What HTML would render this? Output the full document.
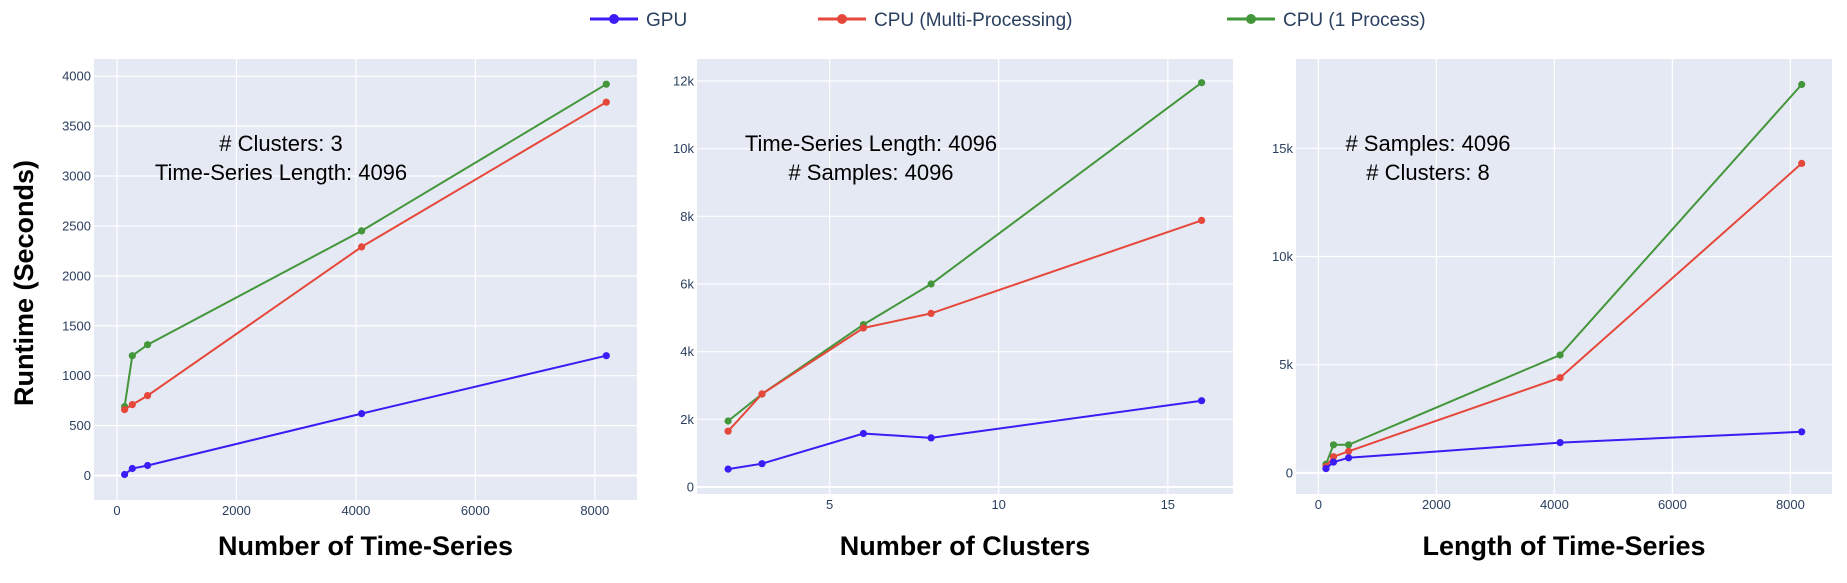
<!DOCTYPE html>
<html><head><meta charset="utf-8"><style>
html,body{margin:0;padding:0;background:#fff;width:1847px;height:583px;overflow:hidden}
svg{display:block;font-family:"Liberation Sans",sans-serif}
</style></head><body>
<svg id="s" width="1847" height="583" xmlns="http://www.w3.org/2000/svg"></svg>
<script>
const S=document.getElementById('s');let h='';
const C={g:'#3b1cf5',m:'#e5483a',p:'#43963a'};
function panel(o){
  const {L,R,T,B,x0,xk,y0,yk}=o;
  const X=v=>x0+v*xk, Y=v=>y0-v*yk;
  h+=`<rect x="${L}" y="${T}" width="${R-L}" height="${B-T}" fill="#e5e9f4"/>`;
  o.xt.forEach(([v,t])=>{const x=X(v);h+=`<line x1="${x}" x2="${x}" y1="${T}" y2="${B}" stroke="#fff" stroke-width="1.2"/><text x="${x}" y="${o.xly}" font-size="13" fill="#2a3f5f" text-anchor="middle">${t}</text>`;});
  o.yt.forEach(([v,t])=>{const y=Y(v);h+=`<line x1="${L}" x2="${R}" y1="${y}" y2="${y}" stroke="#fff" stroke-width="${v==0?2:1.2}"/><text x="${L-3}" y="${y+4.5}" font-size="13" fill="#2a3f5f" text-anchor="end">${t}</text>`;});
  ['p','m','g'].forEach(k=>{const d=o.d[k];const pts=o.xs.map((x,i)=>X(x).toFixed(1)+','+Y(d[i]).toFixed(1));
    h+=`<polyline points="${pts.join(' ')}" fill="none" stroke="${C[k]}" stroke-width="2"/>`;
    pts.forEach(p=>{const [a,b]=p.split(',');h+=`<circle cx="${a}" cy="${b}" r="3.6" fill="${C[k]}"/>`;});});
  h+=`<text x="${o.ax}" y="151" font-size="22" fill="#000" text-anchor="middle">${o.a1}</text><text x="${o.ax}" y="180" font-size="22" fill="#000" text-anchor="middle">${o.a2}</text>`;
  h+=`<text x="${(L+R)/2}" y="555" font-size="27" font-weight="bold" fill="#000" text-anchor="middle">${o.title}</text>`;
}
panel({L:94,R:637,T:59,B:500,x0:117,xk:477.8/8000,y0:475.5,yk:399.3/4000,xly:515,
 xt:[[0,'0'],[2000,'2000'],[4000,'4000'],[6000,'6000'],[8000,'8000']],
 yt:[0,500,1000,1500,2000,2500,3000,3500,4000].map(v=>[v,''+v]),
 xs:[128,256,512,4096,8192],
 d:{g:[10,70,100,620,1200],m:[660,710,800,2290,3740],p:[690,1200,1310,2450,3920]},
 ax:281,a1:'# Clusters: 3',a2:'Time-Series Length: 4096',title:'Number of Time-Series'});
panel({L:697,R:1233,T:59,B:494,x0:829.6-5*33.82,xk:33.82,y0:487,yk:406/12000,xly:509,
 xt:[[5,'5'],[10,'10'],[15,'15']],
 yt:[[0,'0'],[2000,'2k'],[4000,'4k'],[6000,'6k'],[8000,'8k'],[10000,'10k'],[12000,'12k']],
 xs:[2,3,6,8,16],
 d:{g:[530,690,1580,1450,2550],m:[1650,2750,4700,5130,7880],p:[1950,2750,4800,6000,11950]},
 ax:871,a1:'Time-Series Length: 4096',a2:'# Samples: 4096',title:'Number of Clusters'});
panel({L:1296,R:1832,T:59,B:494,x0:1318.4,xk:472/8000,y0:472.9,yk:108.2/5000,xly:509,
 xt:[[0,'0'],[2000,'2000'],[4000,'4000'],[6000,'6000'],[8000,'8000']],
 yt:[[0,'0'],[5000,'5k'],[10000,'10k'],[15000,'15k']],
 xs:[128,256,512,4096,8192],
 d:{g:[200,500,700,1400,1900],m:[300,750,1000,4400,14300],p:[400,1300,1300,5450,17950]},
 ax:1428,a1:'# Samples: 4096',a2:'# Clusters: 8',title:'Length of Time-Series'});
h+=`<text transform="translate(33,283) rotate(-90)" font-size="27" font-weight="bold" fill="#000" text-anchor="middle">Runtime (Seconds)</text>`;
[[590,'g','GPU'],[818,'m','CPU (Multi-Processing)'],[1227,'p','CPU (1 Process)']].forEach(([x,k,t])=>{
 h+=`<line x1="${x}" x2="${x+48}" y1="19" y2="19" stroke="${C[k]}" stroke-width="3"/><circle cx="${x+24}" cy="19" r="5" fill="${C[k]}"/><text x="${x+56}" y="26" font-size="19" fill="#2a3f5f">${t}</text>`;});
S.innerHTML=h;
</script>
</body></html>
